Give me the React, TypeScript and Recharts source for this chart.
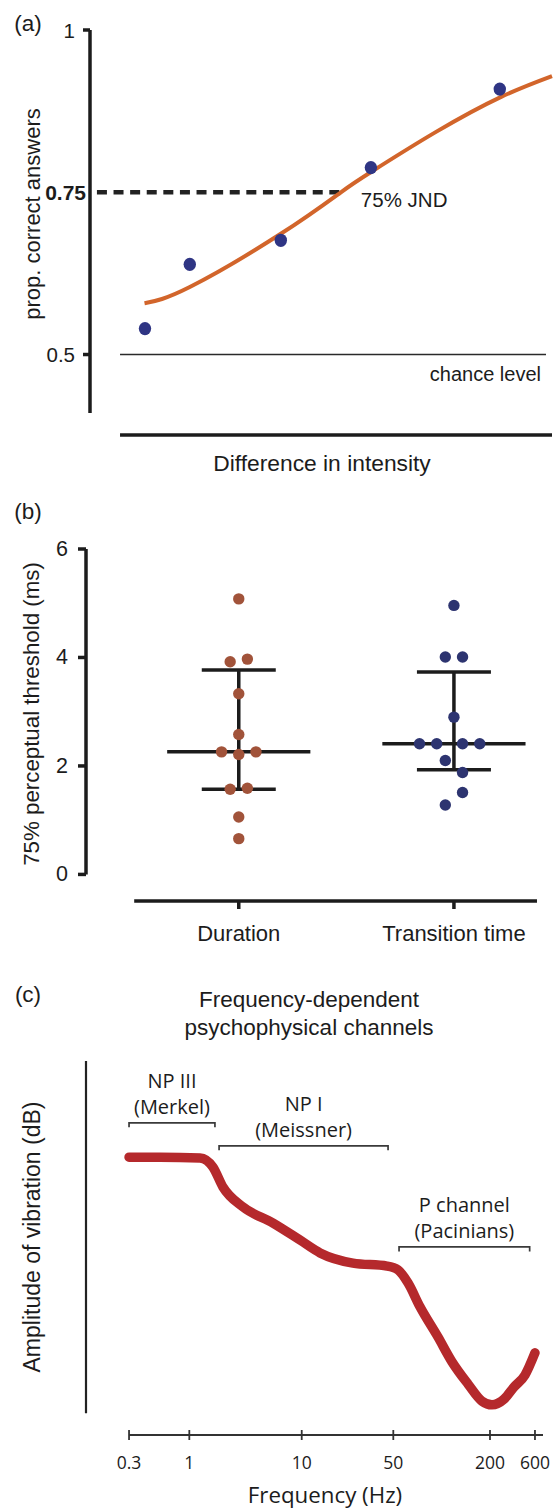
import React from "react";
import { ComposedChart, Line, Scatter, XAxis, YAxis, ReferenceLine, ErrorBar } from "recharts";

const INK = "#1c1c1c";
const SANS = '"Liberation Sans", Arial, Helvetica, sans-serif';
const HUMANIST = '"Open Sans", "Noto Sans", sans-serif';

// (a) psychometric function
const trialIntensity = [1.19, 2.16, 4.13, 6.08, 8.87];
const trialCorrect = [0.54, 0.639, 0.676, 0.788, 0.909];
const fitIntensity = [1.18, 2.16, 4.13, 5.43, 6.1, 7.49, 8.9, 10];
const fitCorrect = [0.579, 0.604, 0.686, 0.75, 0.782, 0.843, 0.897, 0.929];
const correctTicks = [0.5, 0.75, 1];
const chanceLevel = 0.5;
const jndLevel = 0.75;
const jndIntensity = 5.43;

// (b) thresholds per participant
const groupNames = ["Duration", "Transition time"];
const durationX = [1, 0.96, 1.04, 1, 1, 0.92, 1, 1.08, 0.96, 1.04, 1, 1];
const durationMs = [5.08, 3.92, 3.97, 3.33, 2.58, 2.26, 2.21, 2.26, 1.57, 1.59, 1.06, 0.66];
const transitionX = [2, 1.96, 2.04, 2, 1.84, 1.92, 2.04, 2.12, 1.96, 2.04, 2.04, 1.96];
const transitionMs = [4.96, 4.01, 4.01, 2.9, 2.41, 2.41, 2.41, 2.41, 2.1, 1.88, 1.51, 1.28];
const groupCentre = [1, 2];
const groupMid = [2.26, 2.41];
const groupHigh = [3.77, 3.73];
const groupLow = [1.57, 1.93];
const thresholdTicks = [0, 2, 4, 6];

// (c) vibrotactile threshold curve
const freqHz = [0.3, 0.557, 1.245, 1.62, 1.99, 3.0, 5.56, 9.66, 13.8, 24.6, 44.8, 53.5, 61.8, 73.3, 94.8, 116, 146, 178, 210, 282, 359, 470, 600];
const amplitudeDb = [73.7, 73.7, 73.5, 71.1, 65.8, 60.5, 56.2, 51.7, 48.3, 45.6, 44.8, 43.8, 40.3, 34.0, 26.0, 19.4, 13.5, 9.0, 8.0, 9.5, 12.7, 15.9, 21.8];
const freqTicks = [0.3, 1, 10, 50, 200, 600];
const channelTitle = ["NP III", "NP I", "P channel"];
const channelCell = ["(Merkel)", "(Meissner)", "(Pacinians)"];
const channelFromHz = [0.3, 1.84, 54.3];
const channelToHz = [1.69, 45.6, 527];
const channelLevel = [82.8, 76.7, 49.9];

const fitRows = fitIntensity.map((x, i) => ({ x, y: fitCorrect[i] }));
const trialRows = trialIntensity.map((x, i) => ({ x, y: trialCorrect[i] }));
const durationRows = durationX.map((x, i) => ({ x, y: durationMs[i] }));
const transitionRows = transitionX.map((x, i) => ({ x, y: transitionMs[i] }));
const summaryRows = groupCentre.map((x, i) => ({
  x,
  y: groupMid[i],
  err: [groupMid[i] - groupLow[i], groupHigh[i] - groupMid[i]],
}));
const curveRows = freqHz.map((x, i) => ({ x, y: amplitudeDb[i] }));

// the printed frequency axis is schematic: labelled frequencies sit at these fractions of its length
const KNOT_AT = [0, 0.1485, 0.4254, 0.651, 0.8892, 1];

function printedFreqScale(): any {
  const logK = freqTicks.map((v) => Math.log10(v));
  const along = (v: number) => {
    const lv = Math.log10(v);
    let i = 0;
    while (i < logK.length - 2 && lv > logK[i + 1]) i++;
    return KNOT_AT[i] + ((lv - logK[i]) / (logK[i + 1] - logK[i])) * (KNOT_AT[i + 1] - KNOT_AT[i]);
  };
  const back = (t: number) => {
    let i = 0;
    while (i < KNOT_AT.length - 2 && t > KNOT_AT[i + 1]) i++;
    return Math.pow(10, logK[i] + ((t - KNOT_AT[i]) / (KNOT_AT[i + 1] - KNOT_AT[i])) * (logK[i + 1] - logK[i]));
  };
  let dom = [freqTicks[0], freqTicks[freqTicks.length - 1]];
  let rng = [0, 1];
  const scale: any = (v: number) => {
    const a = along(dom[0]);
    const b = along(dom[dom.length - 1]);
    return rng[0] + ((along(v) - a) / (b - a)) * (rng[rng.length - 1] - rng[0]);
  };
  scale.domain = (d?: number[]) => {
    if (d === undefined) return dom.slice();
    dom = d.map(Number);
    return scale;
  };
  scale.range = (r?: number[]) => {
    if (r === undefined) return rng.slice();
    rng = r.map(Number);
    return scale;
  };
  scale.invert = (px: number) => {
    const a = along(dom[0]);
    const b = along(dom[dom.length - 1]);
    return back(a + ((px - rng[0]) / (rng[rng.length - 1] - rng[0])) * (b - a));
  };
  scale.copy = () => printedFreqScale().domain(dom).range(rng);
  scale.ticks = () => freqTicks.slice();
  scale.tickFormat = () => (v: number) => String(v);
  return scale;
}

function Caption({ x, y, size, text, anchor = "middle", rotate = false, family = SANS }: any) {
  const shift = anchor === "middle" ? "-50%" : anchor === "end" ? "-100%" : "0%";
  return (
    <div
      style={{
        position: "absolute",
        left: x,
        top: y,
        transform: `translate(${shift}, -50%)` + (rotate ? " rotate(-90deg)" : ""),
        whiteSpace: "nowrap",
        fontFamily: family,
        fontSize: size,
        lineHeight: 1,
        color: INK,
      }}
    >
      {text}
    </div>
  );
}

const ProportionTick = ({ x, y, payload }: any) => {
  const bold = payload.value === jndLevel;
  return (
    <g>
      {!bold && <line x1={x - 7} x2={x} y1={y} y2={y} stroke={INK} strokeWidth={3.5} />}
      <text
        x={bold ? x - 4 : x - 15}
        y={y}
        textAnchor="end"
        dominantBaseline="central"
        fontFamily={SANS}
        fontSize={bold ? 21 : 20.5}
        fontWeight={bold ? 700 : 400}
        fill={INK}
      >
        {String(payload.value)}
      </text>
    </g>
  );
};

const ThresholdTick = ({ x, y, payload }: any) => (
  <g>
    <line x1={x - 8} x2={x} y1={y} y2={y} stroke={INK} strokeWidth={3.5} />
    <text x={x - 18} y={y} textAnchor="end" dominantBaseline="central" fontFamily={SANS} fontSize={21.5} fill={INK}>
      {payload.value}
    </text>
  </g>
);

const GroupTick = ({ x, y, payload }: any) => (
  <g>
    <line x1={x} x2={x} y1={y} y2={y + 8} stroke={INK} strokeWidth={3.5} />
    <text x={x} y={y + 32} textAnchor="middle" dominantBaseline="central" fontFamily={SANS} fontSize={22} fill={INK}>
      {groupNames[groupCentre.indexOf(payload.value)]}
    </text>
  </g>
);

const FreqTick = ({ x, y, payload }: any) => (
  <g>
    <line x1={x} x2={x} y1={y - 5} y2={y + 5} stroke="#333" strokeWidth={1.8} />
    <text x={x} y={y + 27} textAnchor="middle" dominantBaseline="central" fontFamily={HUMANIST} fontSize={17.5} fill={INK}>
      {String(payload.value)}
    </text>
  </g>
);

const Bracket = (p: any) => (
  <path d={`M${p.x1},${p.y1 + 4.5}V${p.y1}H${p.x2}V${p.y2 + 4.5}`} fill="none" stroke="#3a3a3a" strokeWidth={1.7} />
);

const bracketLabel = (i: number) => (p: any) => {
  const { x, y, width } = p.viewBox;
  const cx = x + width / 2;
  return (
    <g fontFamily={HUMANIST} fontSize={20} fill={INK} textAnchor="middle">
      <text x={cx} y={y - 42} dominantBaseline="central">{channelTitle[i]}</text>
      <text x={cx} y={y - 16} dominantBaseline="central">{channelCell[i]}</text>
    </g>
  );
};

function PanelA() {
  return (
    <ComposedChart width={558} height={480} margin={{ top: 30, right: 6, bottom: 0, left: 0 }}>
      <XAxis dataKey="x" type="number" domain={[0, 10]} height={45} axisLine={false} tickLine={false} tick={false} />
      <YAxis
        dataKey="y"
        type="number"
        domain={[0.376, 1]}
        width={90}
        ticks={correctTicks}
        interval={0}
        axisLine={false}
        tickLine={false}
        tickSize={0}
        tickMargin={0}
        tick={<ProportionTick />}
      />
      <ReferenceLine segment={[{ x: 0, y: 0.41 }, { x: 0, y: 1 }]} stroke={INK} strokeWidth={3.5} ifOverflow="visible" />
      <ReferenceLine segment={[{ x: 0.65, y: 0.376 }, { x: 10, y: 0.376 }]} stroke={INK} strokeWidth={3.5} ifOverflow="visible" />
      <ReferenceLine
        segment={[{ x: 0.65, y: chanceLevel }, { x: 9.87, y: chanceLevel }]}
        stroke="#2a2a2a"
        strokeWidth={1.3}
        ifOverflow="visible"
        label={(p: any) => (
          <text
            x={p.viewBox.x + p.viewBox.width - 5}
            y={p.viewBox.y + 19}
            textAnchor="end"
            dominantBaseline="central"
            fontFamily={SANS}
            fontSize={20}
            fill={INK}
          >
            chance level
          </text>
        )}
      />
      <ReferenceLine
        segment={[{ x: 0.15, y: jndLevel }, { x: jndIntensity, y: jndLevel }]}
        stroke="#222"
        strokeWidth={4.5}
        strokeDasharray="10 6.6"
        ifOverflow="visible"
        label={(p: any) => (
          <text
            x={p.viewBox.x + p.viewBox.width + 20}
            y={p.viewBox.y + 7}
            dominantBaseline="central"
            fontFamily={SANS}
            fontSize={20.5}
            fill={INK}
          >
            75% JND
          </text>
        )}
      />
      <Line
        data={fitRows}
        dataKey="y"
        type="natural"
        stroke="#d2652b"
        strokeWidth={4}
        dot={false}
        activeDot={false}
        isAnimationActive={false}
      />
      <Scatter
        data={trialRows}
        dataKey="y"
        isAnimationActive={false}
        shape={(p: any) => <ellipse cx={p.cx} cy={p.cy} rx={6.2} ry={6.6} fill="#2f3584" />}
      />
    </ComposedChart>
  );
}

function PanelB() {
  return (
    <ComposedChart width={558} height={470} margin={{ top: 59, right: 18, bottom: 0, left: 0 }}>
      <XAxis
        dataKey="x"
        type="number"
        domain={[0.29, 2.4]}
        ticks={groupCentre}
        interval={0}
        height={59}
        axisLine={false}
        tickLine={false}
        tickSize={0}
        tickMargin={0}
        tick={<GroupTick />}
      />
      <YAxis
        dataKey="y"
        type="number"
        domain={[-0.49, 6]}
        width={86}
        ticks={thresholdTicks}
        interval={0}
        axisLine={false}
        tickLine={false}
        tickSize={0}
        tickMargin={0}
        tick={<ThresholdTick />}
      />
      <ReferenceLine segment={[{ x: 0.29, y: 0 }, { x: 0.29, y: 6 }]} stroke={INK} strokeWidth={3.5} ifOverflow="visible" />
      <ReferenceLine segment={[{ x: 0.514, y: -0.49 }, { x: 2.386, y: -0.49 }]} stroke={INK} strokeWidth={3.5} ifOverflow="visible" />
      <Scatter
        data={summaryRows}
        dataKey="y"
        isAnimationActive={false}
        shape={(p: any) => <line x1={p.cx - 71.6} x2={p.cx + 71.6} y1={p.cy} y2={p.cy} stroke={INK} strokeWidth={3.5} />}
      >
        <ErrorBar dataKey="err" direction="y" width={37} stroke={INK} strokeWidth={3.5} isAnimationActive={false} />
      </Scatter>
      <Scatter
        data={durationRows}
        dataKey="y"
        isAnimationActive={false}
        shape={(p: any) => <circle cx={p.cx} cy={p.cy} r={5.7} fill="#a1533a" />}
      />
      <Scatter
        data={transitionRows}
        dataKey="y"
        isAnimationActive={false}
        shape={(p: any) => <circle cx={p.cx} cy={p.cy} r={5.7} fill="#2d3470" />}
      />
    </ComposedChart>
  );
}

function PanelC() {
  return (
    <ComposedChart width={558} height={510} margin={{ top: 58, right: 15, bottom: 0, left: 86 }}>
      <XAxis
        dataKey="x"
        type="number"
        scale={printedFreqScale()}
        domain={[0.127, 730]}
        allowDataOverflow
        ticks={freqTicks}
        interval={0}
        height={75}
        axisLine={false}
        tickLine={false}
        tickSize={0}
        tickMargin={0}
        tick={<FreqTick />}
      />
      <YAxis dataKey="y" type="number" domain={[0, 100]} allowDataOverflow hide />
      <ReferenceLine segment={[{ x: 0.127, y: 5.8 }, { x: 0.127, y: 99.2 }]} stroke="#222" strokeWidth={2.2} ifOverflow="visible" />
      <ReferenceLine segment={[{ x: 0.3, y: 0 }, { x: 730, y: 0 }]} stroke="#333" strokeWidth={1.8} ifOverflow="visible" />
      {channelTitle.map((_, i) => (
        <ReferenceLine
          key={i}
          segment={[{ x: channelFromHz[i], y: channelLevel[i] }, { x: channelToHz[i], y: channelLevel[i] }]}
          ifOverflow="visible"
          shape={Bracket}
          label={bracketLabel(i)}
        />
      ))}
      <Line
        data={curveRows}
        dataKey="y"
        type="monotone"
        stroke="#b5292c"
        strokeWidth={9.5}
        strokeLinecap="round"
        strokeLinejoin="round"
        dot={false}
        activeDot={false}
        isAnimationActive={false}
      />
    </ComposedChart>
  );
}

export default function App() {
  return (
    <div style={{ position: "absolute", left: 0, top: 0, width: 558, height: 1510, background: "#fff", overflow: "hidden" }}>
      <div style={{ position: "absolute", left: 0, top: 0 }}>
        <PanelA />
      </div>
      <div style={{ position: "absolute", left: 0, top: 490 }}>
        <PanelB />
      </div>
      <div style={{ position: "absolute", left: 0, top: 1000 }}>
        <PanelC />
      </div>

      <Caption x={28} y={24} size={22.5} text="(a)" />
      <Caption x={33} y={214} size={22} text="prop. correct answers" rotate />
      <Caption x={322} y={463} size={22.8} text="Difference in intensity" />

      <Caption x={28} y={512} size={22.5} text="(b)" />
      <Caption x={32} y={714} size={22.3} text="75% perceptual threshold (ms)" rotate />

      <Caption x={28} y={995} size={22.5} text="(c)" />
      <Caption x={309} y={1000} size={22.5} text="Frequency-dependent" />
      <Caption x={309} y={1028} size={22.5} text="psychophysical channels" />
      <Caption x={32} y={1237} size={23} text="Amplitude of vibration (dB)" rotate />
      <Caption x={325} y={1495} size={22.3} text="Frequency (Hz)" family={HUMANIST} />
    </div>
  );
}
